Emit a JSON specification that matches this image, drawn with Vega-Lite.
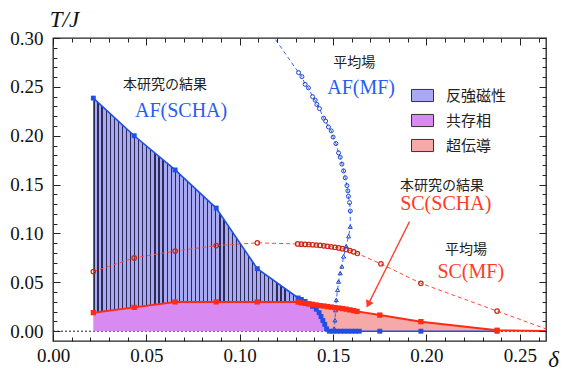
{
  "$schema": "https://vega.github.io/schema/vega-lite/v6.json",
  "width": 493,
  "height": 303,
  "autosize": "none",
  "padding": {"left": 53, "top": 38, "right": 17, "bottom": 30},
  "background": "white",
  "config": {"view": {"stroke": "#222", "strokeWidth": 1.3}},
  "datasets": {
    "regions": [
      {"phase": "反強磁性", "d": 0.0216, "T": 0.019, "T2": 0.2385},
      {"phase": "反強磁性", "d": 0.0435, "T": 0.0244, "T2": 0.2},
      {"phase": "反強磁性", "d": 0.0654, "T": 0.03, "T2": 0.165},
      {"phase": "反強磁性", "d": 0.0874, "T": 0.03, "T2": 0.126},
      {"phase": "反強磁性", "d": 0.1094, "T": 0.03, "T2": 0.064},
      {"phase": "反強磁性", "d": 0.1313, "T": 0.0298, "T2": 0.034},
      {"phase": "反強磁性", "d": 0.133, "T": 0.029, "T2": 0.0325},
      {"phase": "反強磁性", "d": 0.135, "T": 0.0285, "T2": 0.0305},
      {"phase": "反強磁性", "d": 0.137, "T": 0.028, "T2": 0.028},
      {"phase": "共存相", "d": 0.0216, "T": 0, "T2": 0.019},
      {"phase": "共存相", "d": 0.0435, "T": 0, "T2": 0.0244},
      {"phase": "共存相", "d": 0.0654, "T": 0, "T2": 0.03},
      {"phase": "共存相", "d": 0.0874, "T": 0, "T2": 0.03},
      {"phase": "共存相", "d": 0.1094, "T": 0, "T2": 0.03},
      {"phase": "共存相", "d": 0.1313, "T": 0, "T2": 0.0298},
      {"phase": "共存相", "d": 0.133, "T": 0, "T2": 0.029},
      {"phase": "共存相", "d": 0.135, "T": 0, "T2": 0.0285},
      {"phase": "共存相", "d": 0.137, "T": 0, "T2": 0.028},
      {"phase": "共存相", "d": 0.139, "T": 0, "T2": 0.0255},
      {"phase": "共存相", "d": 0.141, "T": 0, "T2": 0.0225},
      {"phase": "共存相", "d": 0.1425, "T": 0, "T2": 0.019},
      {"phase": "共存相", "d": 0.1435, "T": 0, "T2": 0.015},
      {"phase": "共存相", "d": 0.1445, "T": 0, "T2": 0.011},
      {"phase": "共存相", "d": 0.1455, "T": 0, "T2": 0.007},
      {"phase": "共存相", "d": 0.1465, "T": 0, "T2": 0.0025},
      {"phase": "共存相", "d": 0.148, "T": 0, "T2": 0},
      {"phase": "超伝導", "d": 0.137, "T": 0.028, "T2": 0.028},
      {"phase": "超伝導", "d": 0.139, "T": 0.0255, "T2": 0.0275},
      {"phase": "超伝導", "d": 0.141, "T": 0.0225, "T2": 0.0268},
      {"phase": "超伝導", "d": 0.1425, "T": 0.019, "T2": 0.0263},
      {"phase": "超伝導", "d": 0.1435, "T": 0.015, "T2": 0.026},
      {"phase": "超伝導", "d": 0.1445, "T": 0.011, "T2": 0.0259},
      {"phase": "超伝導", "d": 0.1455, "T": 0.007, "T2": 0.0256},
      {"phase": "超伝導", "d": 0.1465, "T": 0.0025, "T2": 0.0253},
      {"phase": "超伝導", "d": 0.148, "T": 0, "T2": 0.025},
      {"phase": "超伝導", "d": 0.151, "T": 0, "T2": 0.0242},
      {"phase": "超伝導", "d": 0.155, "T": 0, "T2": 0.0232},
      {"phase": "超伝導", "d": 0.159, "T": 0, "T2": 0.0218},
      {"phase": "超伝導", "d": 0.1628, "T": 0, "T2": 0.0203},
      {"phase": "超伝導", "d": 0.175, "T": 0, "T2": 0.0165},
      {"phase": "超伝導", "d": 0.197, "T": 0, "T2": 0.0098},
      {"phase": "超伝導", "d": 0.2378, "T": 0, "T2": 0.001}
    ],
    "af_scha": [
      {"d": 0.0216, "T": 0.2385}, {"d": 0.0435, "T": 0.2}, {"d": 0.0654, "T": 0.165},
      {"d": 0.0874, "T": 0.126}, {"d": 0.1094, "T": 0.064}, {"d": 0.1313, "T": 0.034},
      {"d": 0.133, "T": 0.0325}, {"d": 0.135, "T": 0.0305}, {"d": 0.137, "T": 0.028},
      {"d": 0.139, "T": 0.0255}, {"d": 0.141, "T": 0.0225}, {"d": 0.1425, "T": 0.019},
      {"d": 0.1435, "T": 0.015}, {"d": 0.1445, "T": 0.011}, {"d": 0.1455, "T": 0.007},
      {"d": 0.1465, "T": 0.0025}, {"d": 0.148, "T": 0}, {"d": 0.15, "T": 0},
      {"d": 0.152, "T": 0}, {"d": 0.154, "T": 0}, {"d": 0.156, "T": 0},
      {"d": 0.158, "T": 0}, {"d": 0.16, "T": 0}, {"d": 0.162, "T": 0},
      {"d": 0.164, "T": 0}, {"d": 0.175, "T": 0}, {"d": 0.197, "T": 0}, {"d": 0.2378, "T": 0}
    ],
    "sc_scha": [
      {"d": 0.0216, "T": 0.019}, {"d": 0.0435, "T": 0.0244}, {"d": 0.0654, "T": 0.03},
      {"d": 0.0874, "T": 0.03}, {"d": 0.1094, "T": 0.03}, {"d": 0.1313, "T": 0.0298},
      {"d": 0.133, "T": 0.029}, {"d": 0.135, "T": 0.0285}, {"d": 0.137, "T": 0.028},
      {"d": 0.139, "T": 0.0275}, {"d": 0.141, "T": 0.0268}, {"d": 0.143, "T": 0.0262},
      {"d": 0.145, "T": 0.0258}, {"d": 0.147, "T": 0.0252}, {"d": 0.149, "T": 0.0247},
      {"d": 0.151, "T": 0.0242}, {"d": 0.153, "T": 0.0237}, {"d": 0.155, "T": 0.0232},
      {"d": 0.157, "T": 0.0226}, {"d": 0.159, "T": 0.0218}, {"d": 0.161, "T": 0.0211},
      {"d": 0.1628, "T": 0.0203}, {"d": 0.175, "T": 0.0165}, {"d": 0.197, "T": 0.0098},
      {"d": 0.2378, "T": 0.001}, {"d": 0.27, "T": 0}
    ],
    "sc_mf": [
      {"d": 0.0216, "T": 0.061}, {"d": 0.0435, "T": 0.075}, {"d": 0.0654, "T": 0.082},
      {"d": 0.0874, "T": 0.0876}, {"d": 0.1094, "T": 0.0904}, {"d": 0.131, "T": 0.0893},
      {"d": 0.133, "T": 0.0891}, {"d": 0.135, "T": 0.0889}, {"d": 0.137, "T": 0.0887},
      {"d": 0.139, "T": 0.0885}, {"d": 0.141, "T": 0.0882}, {"d": 0.143, "T": 0.0879},
      {"d": 0.145, "T": 0.0874}, {"d": 0.147, "T": 0.0869}, {"d": 0.149, "T": 0.0864},
      {"d": 0.151, "T": 0.0859}, {"d": 0.153, "T": 0.0852}, {"d": 0.155, "T": 0.0845},
      {"d": 0.157, "T": 0.0836}, {"d": 0.159, "T": 0.0825}, {"d": 0.161, "T": 0.0812},
      {"d": 0.163, "T": 0.0795}, {"d": 0.1756, "T": 0.069}, {"d": 0.197, "T": 0.049},
      {"d": 0.2378, "T": 0.0206}, {"d": 0.2674, "T": 0}
    ],
    "af_mf": [
      {"branch": "upper", "d": 0.1149, "T": 0.31},
      {"branch": "upper", "d": 0.1315, "T": 0.2646}, {"branch": "upper", "d": 0.1333, "T": 0.2605},
      {"branch": "upper", "d": 0.135, "T": 0.2526}, {"branch": "upper", "d": 0.1368, "T": 0.249},
      {"branch": "upper", "d": 0.139, "T": 0.24}, {"branch": "upper", "d": 0.1404, "T": 0.2364},
      {"branch": "upper", "d": 0.1413, "T": 0.232}, {"branch": "upper", "d": 0.1427, "T": 0.2278},
      {"branch": "upper", "d": 0.1449, "T": 0.218}, {"branch": "upper", "d": 0.146, "T": 0.215},
      {"branch": "upper", "d": 0.1475, "T": 0.209}, {"branch": "upper", "d": 0.149, "T": 0.205},
      {"branch": "upper", "d": 0.15, "T": 0.1986}, {"branch": "upper", "d": 0.1515, "T": 0.192},
      {"branch": "upper", "d": 0.1529, "T": 0.1825}, {"branch": "upper", "d": 0.1538, "T": 0.178},
      {"branch": "upper", "d": 0.1547, "T": 0.171}, {"branch": "upper", "d": 0.1556, "T": 0.164},
      {"branch": "upper", "d": 0.1565, "T": 0.157}, {"branch": "upper", "d": 0.1574, "T": 0.149},
      {"branch": "upper", "d": 0.1579, "T": 0.1436}, {"branch": "upper", "d": 0.1582, "T": 0.138},
      {"branch": "upper", "d": 0.1588, "T": 0.1316}, {"branch": "upper", "d": 0.1592, "T": 0.123},
      {"branch": "lower", "d": 0.1592, "T": 0.107}, {"branch": "lower", "d": 0.1583, "T": 0.0973},
      {"branch": "lower", "d": 0.157, "T": 0.087}, {"branch": "lower", "d": 0.1556, "T": 0.0766},
      {"branch": "lower", "d": 0.1547, "T": 0.0663}, {"branch": "lower", "d": 0.1538, "T": 0.0595},
      {"branch": "lower", "d": 0.1529, "T": 0.0508}, {"branch": "lower", "d": 0.1524, "T": 0.0423},
      {"branch": "lower", "d": 0.1517, "T": 0.032}, {"branch": "lower", "d": 0.1513, "T": 0.0216},
      {"branch": "lower", "d": 0.151, "T": 0.0113}, {"branch": "lower", "d": 0.1506, "T": 0.0028}
    ],
    "zero": [{"d": 0, "T": 0}, {"d": 0.264, "T": 0}],
    "arrow": [{"d": 0.1909, "T": 0.1121, "d2": 0.1688, "T2": 0.0275}],
    "notes": [
      {"d": 0.06, "T": 0.2515, "text": "本研究の結果", "group": "note"},
      {"d": 0.0686, "T": 0.2258, "text": "AF(SCHA)", "group": "AF"},
      {"d": 0.1613, "T": 0.2742, "text": "平均場", "group": "note"},
      {"d": 0.165, "T": 0.2485, "text": "AF(MF)", "group": "AF"},
      {"d": 0.2083, "T": 0.1488, "text": "本研究の結果", "group": "note"},
      {"d": 0.2103, "T": 0.1299, "text": "SC(SCHA)", "group": "SC"},
      {"d": 0.2212, "T": 0.0835, "text": "平均場", "group": "note"},
      {"d": 0.2237, "T": 0.0611, "text": "SC(MF)", "group": "SC"}
    ]
  },
  "encoding": {
    "x": {
      "field": "d", "type": "quantitative",
      "scale": {"domain": [0, 0.264], "nice": false, "zero": false},
      "axis": {
        "orient": "bottom", "zindex": 1,
        "values": [0,0.01,0.02,0.03,0.04,0.05,0.06,0.07,0.08,0.09,0.1,0.11,0.12,0.13,0.14,0.15,0.16,0.17,0.18,0.19,0.2,0.21,0.22,0.23,0.24,0.25,0.26],
        "labelExpr": "round(datum.value*100)%5==0 ? format(datum.value,'.2f') : ''",
        "tickSize": {"condition": {"test": "round(datum.value*100)%5==0", "value": -7}, "value": -4},
        "tickColor": "#222", "tickWidth": 1, "domain": false, "grid": false,
        "labelFont": "Liberation Serif", "labelFontSize": 19, "labelColor": "#111",
        "labelPadding": 12, "labelBaseline": "top", "labelFlush": false, "labelOverlap": false,
        "title": "δ", "titleFont": "Liberation Serif", "titleFontStyle": "italic", "titleFontWeight": "normal",
        "titleFontSize": 23, "titleColor": "#111", "titleX": 500, "titleY": 18,
        "titleAlign": "center", "titleBaseline": "middle"
      }
    },
    "y": {
      "field": "T", "type": "quantitative",
      "scale": {"domain": [-0.01, 0.3], "nice": false, "zero": false},
      "axis": {
        "orient": "left", "zindex": 1,
        "values": [0,0.01,0.02,0.03,0.04,0.05,0.06,0.07,0.08,0.09,0.1,0.11,0.12,0.13,0.14,0.15,0.16,0.17,0.18,0.19,0.2,0.21,0.22,0.23,0.24,0.25,0.26,0.27,0.28,0.29,0.3],
        "labelExpr": "round(datum.value*100)%5==0 ? format(datum.value,'.2f') : ''",
        "tickSize": {"condition": {"test": "round(datum.value*100)%5==0", "value": -7}, "value": -4},
        "tickColor": "#222", "tickWidth": 1, "domain": false, "grid": false,
        "labelFont": "Liberation Serif", "labelFontSize": 19, "labelColor": "#111",
        "labelPadding": 17, "labelFlush": false, "labelOverlap": false,
        "title": "T/J", "titleFont": "Liberation Serif", "titleFontStyle": "italic", "titleFontWeight": "normal",
        "titleFontSize": 23, "titleColor": "#111", "titleAngle": 0, "titleX": 11, "titleY": -19,
        "titleAlign": "center", "titleBaseline": "middle"
      }
    }
  },
  "resolve": {"axis": {"x": "independent", "y": "independent"}},
  "layer": [
    {
      "data": {"name": "zero"},
      "mark": {"type": "line", "color": "#222", "strokeWidth": 1, "strokeDash": [2, 2]},
      "encoding": {
        "x": {
          "field": "d", "type": "quantitative",
          "scale": {"domain": [0, 0.264], "nice": false, "zero": false},
          "axis": {
            "orient": "top", "zindex": 1, "labels": false, "title": null, "domain": false, "grid": false,
            "values": [0,0.01,0.02,0.03,0.04,0.05,0.06,0.07,0.08,0.09,0.1,0.11,0.12,0.13,0.14,0.15,0.16,0.17,0.18,0.19,0.2,0.21,0.22,0.23,0.24,0.25,0.26],
            "tickSize": {"condition": {"test": "round(datum.value*100)%5==0", "value": -7}, "value": -4},
            "tickColor": "#222", "tickWidth": 1
          }
        },
        "y": {
          "field": "T", "type": "quantitative",
          "scale": {"domain": [-0.01, 0.3], "nice": false, "zero": false},
          "axis": {
            "orient": "right", "zindex": 1, "labels": false, "title": null, "domain": false, "grid": false,
            "values": [0,0.01,0.02,0.03,0.04,0.05,0.06,0.07,0.08,0.09,0.1,0.11,0.12,0.13,0.14,0.15,0.16,0.17,0.18,0.19,0.2,0.21,0.22,0.23,0.24,0.25,0.26,0.27,0.28,0.29,0.3],
            "tickSize": {"condition": {"test": "round(datum.value*100)%5==0", "value": -7}, "value": -4},
            "tickColor": "#222", "tickWidth": 1
          }
        }
      }
    },
    {
      "layer": [
        {
          "data": {"name": "regions"},
          "mark": {"type": "area", "opacity": 1, "interpolate": "linear"},
          "encoding": {
            "y2": {"field": "T2"},
            "color": {
              "field": "phase", "type": "nominal",
              "scale": {"domain": ["反強磁性", "共存相", "超伝導"], "range": ["#a9a9f3", "#d98af2", "#f5a9a9"]},
              "legend": {
                "orient": "none", "legendX": 358, "legendY": 46, "title": null, "padding": 0,
                "symbolType": "M-1,-0.55H1V0.55H-1Z", "symbolSize": 484,
                "symbolStrokeColor": "#333", "symbolStrokeWidth": 1, "symbolOpacity": 1,
                "labelFont": "Noto Sans CJK JP", "labelFontSize": 15, "labelColor": "#222",
                "labelOffset": 12, "rowPadding": 5
              }
            }
          }
        },
        {
          "data": {"name": "regions"},
          "transform": [{"filter": "datum.phase === '反強磁性'"}],
          "mark": {
            "type": "area", "opacity": 1,
            "fill": {"gradient": "linear", "x1": 0, "y1": 0, "x2": 1, "y2": 0, "stops": [
              {"offset": 0, "color": "#2b2b55"}, {"offset": 0.0055, "color": "#2b2b55"}, {"offset": 0.0055, "color": "#a9a9f3"}, {"offset": 0.0189, "color": "#a9a9f3"},
              {"offset": 0.0189, "color": "#2b2b55"}, {"offset": 0.0244, "color": "#2b2b55"}, {"offset": 0.0244, "color": "#a9a9f3"}, {"offset": 0.0377, "color": "#a9a9f3"},
              {"offset": 0.0377, "color": "#2b2b55"}, {"offset": 0.0432, "color": "#2b2b55"}, {"offset": 0.0432, "color": "#a9a9f3"}, {"offset": 0.0566, "color": "#a9a9f3"},
              {"offset": 0.0566, "color": "#2b2b55"}, {"offset": 0.0621, "color": "#2b2b55"}, {"offset": 0.0621, "color": "#a9a9f3"}, {"offset": 0.0755, "color": "#a9a9f3"},
              {"offset": 0.0755, "color": "#2b2b55"}, {"offset": 0.081, "color": "#2b2b55"}, {"offset": 0.081, "color": "#a9a9f3"}, {"offset": 0.0943, "color": "#a9a9f3"},
              {"offset": 0.0943, "color": "#2b2b55"}, {"offset": 0.0998, "color": "#2b2b55"}, {"offset": 0.0998, "color": "#a9a9f3"}, {"offset": 0.1132, "color": "#a9a9f3"},
              {"offset": 0.1132, "color": "#2b2b55"}, {"offset": 0.1187, "color": "#2b2b55"}, {"offset": 0.1187, "color": "#a9a9f3"}, {"offset": 0.1321, "color": "#a9a9f3"},
              {"offset": 0.1321, "color": "#2b2b55"}, {"offset": 0.1376, "color": "#2b2b55"}, {"offset": 0.1376, "color": "#a9a9f3"}, {"offset": 0.1509, "color": "#a9a9f3"},
              {"offset": 0.1509, "color": "#2b2b55"}, {"offset": 0.1564, "color": "#2b2b55"}, {"offset": 0.1564, "color": "#a9a9f3"}, {"offset": 0.1698, "color": "#a9a9f3"},
              {"offset": 0.1698, "color": "#2b2b55"}, {"offset": 0.1753, "color": "#2b2b55"}, {"offset": 0.1753, "color": "#a9a9f3"}, {"offset": 0.1887, "color": "#a9a9f3"},
              {"offset": 0.1887, "color": "#2b2b55"}, {"offset": 0.1942, "color": "#2b2b55"}, {"offset": 0.1942, "color": "#a9a9f3"}, {"offset": 0.2075, "color": "#a9a9f3"},
              {"offset": 0.2075, "color": "#2b2b55"}, {"offset": 0.213, "color": "#2b2b55"}, {"offset": 0.213, "color": "#a9a9f3"}, {"offset": 0.2264, "color": "#a9a9f3"},
              {"offset": 0.2264, "color": "#2b2b55"}, {"offset": 0.2319, "color": "#2b2b55"}, {"offset": 0.2319, "color": "#a9a9f3"}, {"offset": 0.2453, "color": "#a9a9f3"},
              {"offset": 0.2453, "color": "#2b2b55"}, {"offset": 0.2508, "color": "#2b2b55"}, {"offset": 0.2508, "color": "#a9a9f3"}, {"offset": 0.2642, "color": "#a9a9f3"},
              {"offset": 0.2642, "color": "#2b2b55"}, {"offset": 0.2697, "color": "#2b2b55"}, {"offset": 0.2697, "color": "#a9a9f3"}, {"offset": 0.283, "color": "#a9a9f3"},
              {"offset": 0.283, "color": "#2b2b55"}, {"offset": 0.2885, "color": "#2b2b55"}, {"offset": 0.2885, "color": "#a9a9f3"}, {"offset": 0.3019, "color": "#a9a9f3"},
              {"offset": 0.3019, "color": "#2b2b55"}, {"offset": 0.3074, "color": "#2b2b55"}, {"offset": 0.3074, "color": "#a9a9f3"}, {"offset": 0.3208, "color": "#a9a9f3"},
              {"offset": 0.3208, "color": "#2b2b55"}, {"offset": 0.3263, "color": "#2b2b55"}, {"offset": 0.3263, "color": "#a9a9f3"}, {"offset": 0.3396, "color": "#a9a9f3"},
              {"offset": 0.3396, "color": "#2b2b55"}, {"offset": 0.3451, "color": "#2b2b55"}, {"offset": 0.3451, "color": "#a9a9f3"}, {"offset": 0.3585, "color": "#a9a9f3"},
              {"offset": 0.3585, "color": "#2b2b55"}, {"offset": 0.364, "color": "#2b2b55"}, {"offset": 0.364, "color": "#a9a9f3"}, {"offset": 0.3774, "color": "#a9a9f3"},
              {"offset": 0.3774, "color": "#2b2b55"}, {"offset": 0.3829, "color": "#2b2b55"}, {"offset": 0.3829, "color": "#a9a9f3"}, {"offset": 0.3962, "color": "#a9a9f3"},
              {"offset": 0.3962, "color": "#2b2b55"}, {"offset": 0.4017, "color": "#2b2b55"}, {"offset": 0.4017, "color": "#a9a9f3"}, {"offset": 0.4151, "color": "#a9a9f3"},
              {"offset": 0.4151, "color": "#2b2b55"}, {"offset": 0.4206, "color": "#2b2b55"}, {"offset": 0.4206, "color": "#a9a9f3"}, {"offset": 0.434, "color": "#a9a9f3"},
              {"offset": 0.434, "color": "#2b2b55"}, {"offset": 0.4395, "color": "#2b2b55"}, {"offset": 0.4395, "color": "#a9a9f3"}, {"offset": 0.4528, "color": "#a9a9f3"},
              {"offset": 0.4528, "color": "#2b2b55"}, {"offset": 0.4583, "color": "#2b2b55"}, {"offset": 0.4583, "color": "#a9a9f3"}, {"offset": 0.4717, "color": "#a9a9f3"},
              {"offset": 0.4717, "color": "#2b2b55"}, {"offset": 0.4772, "color": "#2b2b55"}, {"offset": 0.4772, "color": "#a9a9f3"}, {"offset": 0.4906, "color": "#a9a9f3"},
              {"offset": 0.4906, "color": "#2b2b55"}, {"offset": 0.4961, "color": "#2b2b55"}, {"offset": 0.4961, "color": "#a9a9f3"}, {"offset": 0.5094, "color": "#a9a9f3"},
              {"offset": 0.5094, "color": "#2b2b55"}, {"offset": 0.5149, "color": "#2b2b55"}, {"offset": 0.5149, "color": "#a9a9f3"}, {"offset": 0.5283, "color": "#a9a9f3"},
              {"offset": 0.5283, "color": "#2b2b55"}, {"offset": 0.5338, "color": "#2b2b55"}, {"offset": 0.5338, "color": "#a9a9f3"}, {"offset": 0.5472, "color": "#a9a9f3"},
              {"offset": 0.5472, "color": "#2b2b55"}, {"offset": 0.5527, "color": "#2b2b55"}, {"offset": 0.5527, "color": "#a9a9f3"}, {"offset": 0.566, "color": "#a9a9f3"},
              {"offset": 0.566, "color": "#2b2b55"}, {"offset": 0.5715, "color": "#2b2b55"}, {"offset": 0.5715, "color": "#a9a9f3"}, {"offset": 0.5849, "color": "#a9a9f3"},
              {"offset": 0.5849, "color": "#2b2b55"}, {"offset": 0.5904, "color": "#2b2b55"}, {"offset": 0.5904, "color": "#a9a9f3"}, {"offset": 0.6038, "color": "#a9a9f3"},
              {"offset": 0.6038, "color": "#2b2b55"}, {"offset": 0.6093, "color": "#2b2b55"}, {"offset": 0.6093, "color": "#a9a9f3"}, {"offset": 0.6226, "color": "#a9a9f3"},
              {"offset": 0.6226, "color": "#2b2b55"}, {"offset": 0.6281, "color": "#2b2b55"}, {"offset": 0.6281, "color": "#a9a9f3"}, {"offset": 0.6415, "color": "#a9a9f3"},
              {"offset": 0.6415, "color": "#2b2b55"}, {"offset": 0.647, "color": "#2b2b55"}, {"offset": 0.647, "color": "#a9a9f3"}, {"offset": 0.6604, "color": "#a9a9f3"},
              {"offset": 0.6604, "color": "#2b2b55"}, {"offset": 0.6659, "color": "#2b2b55"}, {"offset": 0.6659, "color": "#a9a9f3"}, {"offset": 0.6792, "color": "#a9a9f3"},
              {"offset": 0.6792, "color": "#2b2b55"}, {"offset": 0.6847, "color": "#2b2b55"}, {"offset": 0.6847, "color": "#a9a9f3"}, {"offset": 0.6981, "color": "#a9a9f3"},
              {"offset": 0.6981, "color": "#2b2b55"}, {"offset": 0.7036, "color": "#2b2b55"}, {"offset": 0.7036, "color": "#a9a9f3"}, {"offset": 0.717, "color": "#a9a9f3"},
              {"offset": 0.717, "color": "#2b2b55"}, {"offset": 0.7225, "color": "#2b2b55"}, {"offset": 0.7225, "color": "#a9a9f3"}, {"offset": 0.7358, "color": "#a9a9f3"},
              {"offset": 0.7358, "color": "#2b2b55"}, {"offset": 0.7413, "color": "#2b2b55"}, {"offset": 0.7413, "color": "#a9a9f3"}, {"offset": 0.7547, "color": "#a9a9f3"},
              {"offset": 0.7547, "color": "#2b2b55"}, {"offset": 0.7602, "color": "#2b2b55"}, {"offset": 0.7602, "color": "#a9a9f3"}, {"offset": 0.7736, "color": "#a9a9f3"},
              {"offset": 0.7736, "color": "#2b2b55"}, {"offset": 0.7791, "color": "#2b2b55"}, {"offset": 0.7791, "color": "#a9a9f3"}, {"offset": 0.7925, "color": "#a9a9f3"},
              {"offset": 0.7925, "color": "#2b2b55"}, {"offset": 0.798, "color": "#2b2b55"}, {"offset": 0.798, "color": "#a9a9f3"}, {"offset": 0.8113, "color": "#a9a9f3"},
              {"offset": 0.8113, "color": "#2b2b55"}, {"offset": 0.8168, "color": "#2b2b55"}, {"offset": 0.8168, "color": "#a9a9f3"}, {"offset": 0.8302, "color": "#a9a9f3"},
              {"offset": 0.8302, "color": "#2b2b55"}, {"offset": 0.8357, "color": "#2b2b55"}, {"offset": 0.8357, "color": "#a9a9f3"}, {"offset": 0.8491, "color": "#a9a9f3"},
              {"offset": 0.8491, "color": "#2b2b55"}, {"offset": 0.8546, "color": "#2b2b55"}, {"offset": 0.8546, "color": "#a9a9f3"}, {"offset": 0.8679, "color": "#a9a9f3"},
              {"offset": 0.8679, "color": "#2b2b55"}, {"offset": 0.8734, "color": "#2b2b55"}, {"offset": 0.8734, "color": "#a9a9f3"}, {"offset": 0.8868, "color": "#a9a9f3"},
              {"offset": 0.8868, "color": "#2b2b55"}, {"offset": 0.8923, "color": "#2b2b55"}, {"offset": 0.8923, "color": "#a9a9f3"}, {"offset": 0.9057, "color": "#a9a9f3"},
              {"offset": 0.9057, "color": "#2b2b55"}, {"offset": 0.9112, "color": "#2b2b55"}, {"offset": 0.9112, "color": "#a9a9f3"}, {"offset": 0.9245, "color": "#a9a9f3"},
              {"offset": 0.9245, "color": "#2b2b55"}, {"offset": 0.93, "color": "#2b2b55"}, {"offset": 0.93, "color": "#a9a9f3"}, {"offset": 0.9434, "color": "#a9a9f3"},
              {"offset": 0.9434, "color": "#2b2b55"}, {"offset": 0.9489, "color": "#2b2b55"}, {"offset": 0.9489, "color": "#a9a9f3"}, {"offset": 0.9623, "color": "#a9a9f3"},
              {"offset": 0.9623, "color": "#2b2b55"}, {"offset": 0.9678, "color": "#2b2b55"}, {"offset": 0.9678, "color": "#a9a9f3"}, {"offset": 0.9811, "color": "#a9a9f3"},
              {"offset": 0.9811, "color": "#2b2b55"}, {"offset": 0.9866, "color": "#2b2b55"}, {"offset": 0.9866, "color": "#a9a9f3"}, {"offset": 1, "color": "#a9a9f3"}
            ]}
          },
          "encoding": {"y2": {"field": "T2"}}
        },
        {
          "data": {"name": "sc_mf"},
          "mark": {"type": "line", "clip": true, "color": "#ff4a3a", "strokeWidth": 1, "strokeDash": [4, 3]},
          "encoding": {}
        },
        {
          "data": {"name": "sc_mf"},
          "mark": {"type": "point", "clip": true, "shape": "circle", "filled": false, "size": 20, "strokeWidth": 1.2, "color": "#c42818", "opacity": 1},
          "encoding": {}
        },
        {
          "data": {"name": "af_mf"},
          "mark": {"type": "line", "clip": true, "color": "#3566f0", "strokeWidth": 1, "strokeDash": [4, 3]},
          "encoding": {"order": {"field": "T", "sort": "descending"}}
        },
        {
          "data": {"name": "af_mf"},
          "mark": {"type": "point", "clip": true, "filled": false, "size": 16, "strokeWidth": 1, "color": "#1c43d0", "opacity": 1},
          "encoding": {
            "shape": {"field": "branch", "type": "nominal", "legend": null,
                      "scale": {"domain": ["upper", "lower"], "range": ["circle", "triangle-up"]}}
          }
        },
        {
          "data": {"name": "af_scha"},
          "mark": {"type": "line", "clip": true, "color": "#1f4fe6", "strokeWidth": 1.6,
                   "point": {"filled": true, "shape": "square", "size": 24, "color": "#1f4fe6", "opacity": 1}},
          "encoding": {}
        },
        {
          "data": {"name": "sc_scha"},
          "mark": {"type": "line", "clip": true, "color": "#ff2b14", "strokeWidth": 2,
                   "point": {"filled": true, "shape": "square", "size": 28, "color": "#ff2b14", "opacity": 1}},
          "encoding": {}
        },
        {
          "data": {"name": "arrow"},
          "mark": {"type": "rule", "color": "#ff3a22", "strokeWidth": 1.3},
          "encoding": {"x2": {"field": "d2"}, "y2": {"field": "T2"}}
        },
        {
          "data": {"name": "arrow"},
          "mark": {"type": "point", "shape": "triangle-up", "filled": true, "size": 70, "angle": 206.7, "color": "#ff3a22", "opacity": 1},
          "encoding": {
            "x": {"field": "d2", "type": "quantitative", "scale": {"domain": [0, 0.264], "nice": false, "zero": false}},
            "y": {"field": "T2", "type": "quantitative", "scale": {"domain": [-0.01, 0.3], "nice": false, "zero": false}}
          }
        },
        {
          "data": {"name": "notes"},
          "transform": [{"filter": "datum.group === 'note'"}],
          "mark": {"type": "text", "font": "Noto Sans CJK JP", "fontSize": 14, "color": "#222", "align": "center", "baseline": "middle"},
          "encoding": {"text": {"field": "text"}}
        },
        {
          "data": {"name": "notes"},
          "transform": [{"filter": "datum.group === 'AF'"}],
          "mark": {"type": "text", "font": "Liberation Serif", "fontSize": 20, "color": "#2a5cf2", "align": "center", "baseline": "middle"},
          "encoding": {"text": {"field": "text"}}
        },
        {
          "data": {"name": "notes"},
          "transform": [{"filter": "datum.group === 'SC'"}],
          "mark": {"type": "text", "font": "Liberation Serif", "fontSize": 20, "color": "#ff3a28", "align": "center", "baseline": "middle"},
          "encoding": {"text": {"field": "text"}}
        }
      ]
    }
  ]
}
